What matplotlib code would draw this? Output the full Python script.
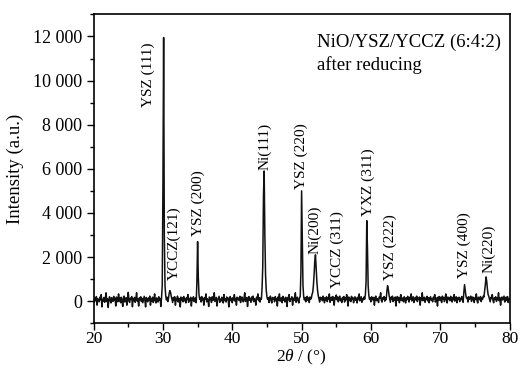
import numpy as np
import matplotlib
matplotlib.use("Agg")
import matplotlib.pyplot as plt
from matplotlib.ticker import MultipleLocator

# ---- data ----
two_theta_start = 20.0
two_theta_step = 0.1
intensity = [
    80, -60, 150, 20, 210, -180, 120, 40, -30, 180,
    60, 300, -260, 90, 10, 170, -50, 130, 380, -20,
    110, -280, 70, 200, 30, -80, 160, 90, -10, 220,
    40, 130, -220, 190, 70, -30, 330, 10, 140, -70,
    180, 50, -240, 120, 230, -40, 90, 160, -180, 60,
    400, 20, -60, 140, 80, 210, -250, 100, 30, 170,
    -50, 120, 380, 0, 90, -220, 150, 60, 200, -20,
    130, -70, 80, 220, 40, -260, 170, 90, -30, 140,
    60, 230, -180, 110, 10, 180, -60, 70, 330, 20,
    -80, 150, 90, -40, 200, 50, 120, -240, 160, 700,
    5200, 11950, 3000, 700, 250, 60, 180, -20, 120, 350,
    480, 400, 220, 90, -60, 170, 30, 200, -180, 110,
    40, 230, -40, 130, 80, -260, 190, 60, 150, -30,
    210, 20, 110, -80, 160, 70, 300, -50, 100, 30,
    180, -220, 120, 60, 200, -20, 90, 150, -70, 900,
    2700, 1100, 300, 80, 170, -40, 210, 50, 130, -180,
    160, 90, 330, -30, 110, 40, -240, 190, 70, 140,
    -60, 200, 30, 120, 380, -20, 80, 170, -220, 60,
    140, 220, -50, 90, 10, 180, 120, -80, 300, 30,
    110, -40, 190, 70, 150, -260, 90, 210, 20, 130,
    -70, 160, 60, 300, 0, 120, -180, 180, 80, 140,
    30, 220, -60, 110, 190, 50, -30, 150, 380, -10,
    100, 170, -240, 80, 210, 40, 130, -50, 190, 60,
    230, -20, 120, 70, -180, 180, 100, 330, 20, 160,
    -40, 130, 90, 600, 1600, 4800, 5900, 3000, 1200, 500,
    200, 80, 160, -60, 110, 230, 30, -80, 170, 90,
    140, -30, 210, 60, 120, -220, 190, 40, 330, 0,
    90, 160, -70, 220, 50, 130, -40, 180, 100, -240,
    170, 60, 300, -20, 110, 80, 200, -180, 140, 30,
    120, 380, -50, 90, 180, 20, -80, 150, 210, 1300,
    5000, 2800, 700, 200, 60, 170, -30, 120, 220, 40,
    150, -60, 190, 90, 130, 300, 400, 700, 1200, 1800,
    2100, 1500, 900, 500, 250, 120, -40, 180, 80, 150,
    20, 230, 110, -70, 160, 60, 200, -20, 140, 90,
    330, -50, 120, 180, 30, 210, 80, -180, 170, 110,
    280, 60, 190, -30, 140, 230, 20, 100, -60, 170,
    80, 210, -40, 150, 60, 300, 100, -220, 190, 30,
    130, -20, 220, 90, 160, -70, 110, 200, 40, 140,
    -80, 180, 70, 330, 10, 130, 200, -50, 120, 60,
    190, 90, 300, 900, 3650, 2400, 700, 250, 80, 160,
    -30, 200, 110, 50, 170, -180, 140, 230, 20, 120,
    80, -60, 190, 140, 380, 30, -40, 160, 90, 210,
    0, 150, 70, 450, 700, 550, 300, 130, -50, 180,
    100, 230, -20, 140, 60, 190, -220, 120, 210, 40,
    170, -70, 90, 300, 30, 150, 80, -30, 200, 110,
    -80, 160, 60, 220, 120, -40, 180, 90, 330, 10,
    140, 200, -60, 100, 170, 50, 230, -20, 130, 80,
    190, -180, 150, 60, 380, 20, 110, 180, -50, 140,
    70, 220, 10, 160, -70, 130, 200, 40, 90, -30,
    180, 110, 300, -40, 150, 70, -220, 190, 60, 210,
    30, 140, -60, 230, 100, 170, -20, 120, 330, 50,
    -80, 190, 90, 150, 20, 220, 130, -40, 170, 60,
    300, 0, 110, 200, -70, 150, 80, 180, -20, 130,
    60, 210, 90, -50, 400, 750, 500, 250, 120, 170,
    -40, 200, 80, 140, 230, -10, 110, 190, 50, -60,
    160, 100, 330, 30, -80, 180, 120, 60, 210, -20,
    140, 80, 230, 190, 450, 750, 1100, 900, 550, 300,
    220, 90, -30, 170, 120, 300, 40, -70, 150, 100,
    200, -10, 130, 70, 380, 20, 160, -180, 110, 190,
    50, 140, 230, -40, 100, 180, 30, 210, -60, 120,
    90,
]

peak_labels = ["YSZ (111)", "YCCZ(121)", "YSZ (200)", "Ni(111)", "YSZ (220)",
               "Ni(200)", "YCCZ (311)", "YXZ (311)", "YSZ (222)", "YSZ (400)",
               "Ni(220)"]
label_x = [27.84, 31.59, 35.05, 44.72, 50.01, 51.93, 55.10, 59.58, 62.76, 73.50, 76.94]
label_y = [8780, 950, 2970, 5950, 5070, 2160, 600, 3860, 970, 1030, 1270]

xticks = [20, 30, 40, 50, 60, 70, 80]
yticks = [0, 2000, 4000, 6000, 8000, 10000, 12000]
ytick_labels = ["0", "2 000", "4 000", "6 000", "8 000", "10 000", "12 000"]

# ---- plot ----
plt.rcParams['font.family'] = ['Liberation Serif', 'DejaVu Serif']
plt.rcParams['mathtext.fontset'] = 'custom'
plt.rcParams['mathtext.it'] = 'Liberation Serif:italic'
plt.rcParams['mathtext.rm'] = 'Liberation Serif'

y = np.array(intensity, dtype=float)
x = two_theta_start + two_theta_step * np.arange(len(y))

fig = plt.figure(figsize=(5.2, 3.69), dpi=100)
ax = fig.add_axes([0.180, 0.124, 0.800, 0.837])
ax.plot(x, y, color='#111111', lw=1.1)

ax.set_xlim(20, 80)
ax.set_ylim(-1000, 13000)
ax.set_xticks(xticks)
ax.set_yticks(yticks)
ax.set_yticklabels(ytick_labels)
ax.xaxis.set_minor_locator(MultipleLocator(5))
ax.yaxis.set_minor_locator(MultipleLocator(1000))
ax.tick_params(which='major', direction='out', length=5, width=1.0, labelsize=13, pad=0.5)
ax.tick_params(axis='x', which='major', labelsize=12.5)
ax.tick_params(axis='y', which='major', pad=3)
ax.tick_params(which='minor', direction='out', length=3, width=1.0)
for s in ax.spines.values():
    s.set_linewidth(1.2)

ax.set_ylabel("Intensity (a.u.)", fontsize=13.5)
ax.yaxis.set_label_coords(-0.168, 0.5)
ax.set_xlabel(r"2$\it{\theta}$ / (°)", fontsize=12.5, va='center')
ax.xaxis.set_label_coords(0.5, -0.112)

for lab, lx, ly in zip(peak_labels, label_x, label_y):
    ax.text(lx, ly, lab, rotation=90, ha='center', va='bottom', fontsize=11)

ax.text(0.537, 0.908, "NiO/YSZ/YCCZ (6:4:2)", transform=ax.transAxes,
        ha='left', va='center', fontsize=13.5)
ax.text(0.537, 0.837, "after reducing", transform=ax.transAxes,
        ha='left', va='center', fontsize=13.5)

fig.savefig("out.png", dpi=100)
